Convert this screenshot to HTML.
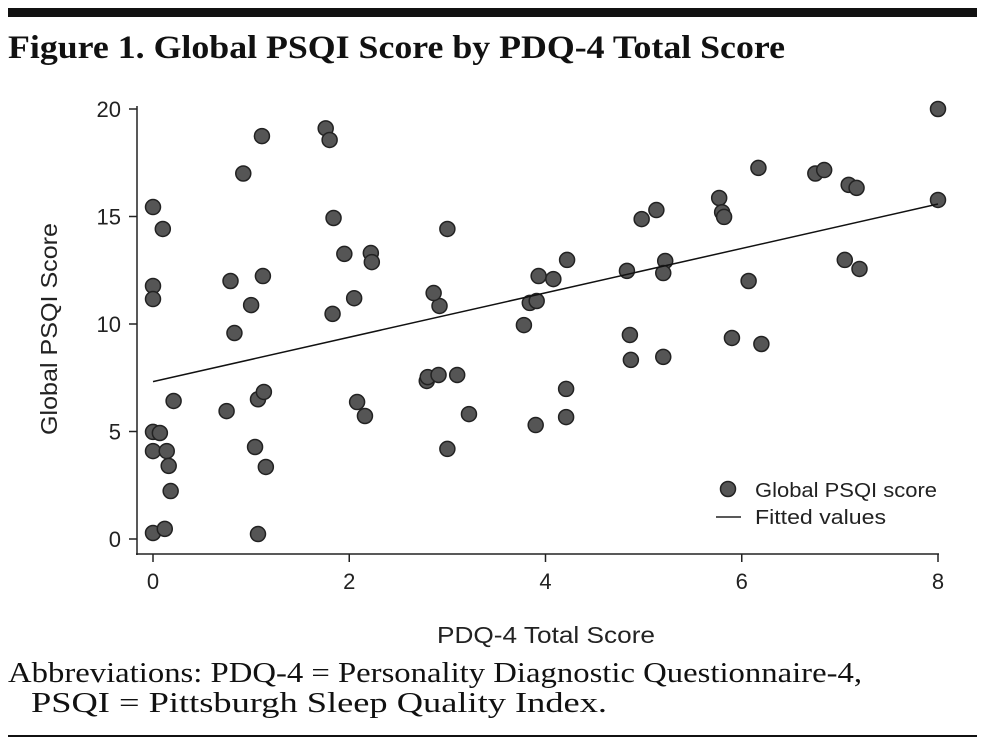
<!DOCTYPE html>
<html><head><meta charset="utf-8"><style>
body{margin:0;background:#fff;width:986px;height:744px;overflow:hidden}
svg{display:block}
</style></head><body>
<svg id="chart" width="986" height="744" font-family="'Liberation Sans',sans-serif">
<rect x="8" y="8" width="969" height="9" fill="#111"/>
<text x="8" y="58" font-family="'Liberation Serif',serif" font-size="33" font-weight="bold" fill="#111" textLength="777" lengthAdjust="spacingAndGlyphs">Figure 1. Global PSQI Score by PDQ-4 Total Score</text>
<g id="axes"></g>
<g id="marks"></g>
<text x="546" y="643" text-anchor="middle" font-size="23" fill="#222" textLength="218" lengthAdjust="spacingAndGlyphs">PDQ-4 Total Score</text>
<text transform="translate(57,329) rotate(-90)" text-anchor="middle" font-size="23" fill="#222" textLength="212" lengthAdjust="spacingAndGlyphs">Global PSQI Score</text>
<g>
<circle cx="728" cy="489" r="7.5" fill="#555" stroke="#222" stroke-width="1.5"/>
<text x="755" y="497" font-size="20" fill="#222" textLength="182" lengthAdjust="spacingAndGlyphs">Global PSQI score</text>
<line x1="716" y1="517" x2="741" y2="517" stroke="#222" stroke-width="1.5"/>
<text x="755" y="524" font-size="20" fill="#222" textLength="131" lengthAdjust="spacingAndGlyphs">Fitted values</text>
</g>
<text x="8" y="682" font-family="'Liberation Serif',serif" font-size="29" fill="#111" textLength="854" lengthAdjust="spacingAndGlyphs">Abbreviations: PDQ-4 = Personality Diagnostic Questionnaire-4,</text>
<text x="31" y="712" font-family="'Liberation Serif',serif" font-size="29" fill="#111" textLength="576" lengthAdjust="spacingAndGlyphs">PSQI = Pittsburgh Sleep Quality Index.</text>
<rect x="8" y="735" width="969" height="2" fill="#111"/>
</svg>
<script>
const xTicks=[0,2,4,6,8];
const yTicks=[0,5,10,15,20];
const pdqScores=[0,0,0,0,0,0,0.07,0.1,0.12,0.14,0.16,0.18,0.21,0.75,0.79,0.83,0.92,1.0,1.04,1.07,1.07,1.11,1.12,1.13,1.15,1.76,1.8,1.84,1.83,1.95,2.05,2.08,2.16,2.22,2.23,2.79,2.8,2.91,2.92,2.86,3.0,3.0,3.1,3.22,3.78,3.84,3.9,3.91,3.93,4.08,4.21,4.22,4.83,5.22,5.2,4.98,5.13,4.86,4.87,5.2,4.21,5.77,5.8,5.82,6.17,6.07,5.9,6.2,6.75,6.84,7.09,7.17,7.05,7.2,8,8];
const psqiScores=[15.44,11.77,11.16,4.98,4.09,0.28,4.93,14.42,0.47,4.09,3.4,2.23,6.42,5.95,12.0,9.58,17.0,10.88,4.28,6.5,0.23,18.74,12.23,6.84,3.35,19.1,18.56,14.93,10.47,13.26,11.2,6.37,5.72,13.3,12.88,7.35,7.53,7.63,10.84,11.44,14.42,4.19,7.63,5.81,9.95,10.98,5.3,11.07,12.23,12.09,6.98,12.98,12.47,12.93,12.37,14.88,15.3,9.49,8.33,8.47,5.67,15.86,15.2,14.98,17.26,12.0,9.35,9.07,17.0,17.16,16.47,16.33,12.98,12.56,20,15.77];
const fitX=[0,8];
const fitY=[7.32,15.58];
const NS='http://www.w3.org/2000/svg';
const sx=v=>153+v*98.125;
const sy=v=>539-v*21.5;
function mk(tag,attrs,parent){const e=document.createElementNS(NS,tag);for(const k in attrs)e.setAttribute(k,attrs[k]);parent.appendChild(e);return e;}
const axes=document.getElementById('axes'),marks=document.getElementById('marks');
let e=mk('line',{x1:137,y1:106,x2:137,y2:555,stroke:'#222','stroke-width':1.5},axes);


e=mk('line',{x1:136,y1:554,x2:939,y2:554,stroke:'#222','stroke-width':1.5},axes);


yTicks.forEach(t=>{
 let l=mk('line',{x1:129,y1:sy(t),x2:137,y2:sy(t),stroke:'#222','stroke-width':1.5},axes);
 
 
 let tx=mk('text',{x:121,y:sy(t)+8,'text-anchor':'end','font-size':22,fill:'#222'},axes);
 tx.textContent=t;
 
 
});
xTicks.forEach(t=>{
 let l=mk('line',{x1:sx(t),y1:554,x2:sx(t),y2:562,stroke:'#222','stroke-width':1.5},axes);
 
 
 let tx=mk('text',{x:sx(t),y:589,'text-anchor':'middle','font-size':22,fill:'#222'},axes);
 tx.textContent=t;
 
 
});
pdqScores.forEach((v,i)=>{
 let c=mk('circle',{cx:sx(v),cy:sy(psqiScores[i]),r:7.5,fill:'#555',stroke:'#222','stroke-width':1.5},marks);
 
 
});
let fl=mk('line',{x1:sx(fitX[0]),y1:sy(fitY[0]),x2:sx(fitX[1]),y2:sy(fitY[1]),stroke:'#111','stroke-width':1.5},marks);


</script>
</body></html>
